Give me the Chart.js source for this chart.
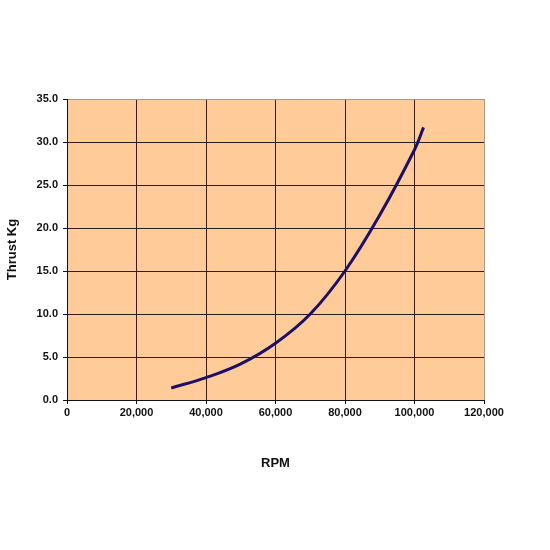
<!DOCTYPE html>
<html>
<head>
<meta charset="utf-8">
<script src="https://cdn.jsdelivr.net/npm/chart.js@4"></script>
<style>
  html, body { margin: 0; padding: 0; background: #fff; }
  #wrap { width: 550px; height: 550px; }
</style>
</head>
<body>
<div id="wrap"><canvas id="thrustchart" width="550" height="550"></canvas></div>
<script>
// values
const rpm = [30000, 40000, 50000, 60000, 70000, 80000, 90000, 100000, 102600];
const thrust = [1.4, 2.6, 4.2, 6.6, 10.0, 15.0, 21.5, 29.1, 31.7];
const xTicks = [0, 20000, 40000, 60000, 80000, 100000, 120000];
const yTicks = [0, 5, 10, 15, 20, 25, 30, 35];

// peach plot area
const plotBg = {
  id: "plotBg",
  beforeDraw(chart) {
    const { ctx, chartArea: a } = chart;
    ctx.save();
    ctx.fillStyle = "#FFCC99";
    ctx.fillRect(a.left, a.top, a.right - a.left, a.bottom - a.top);
    ctx.restore();
  },
};

const tickFont = { family: "Arial, 'Liberation Sans'", size: 11, weight: "bold" };
const titleFont = { family: "Arial, 'Liberation Sans'", size: 13, weight: "bold" };

const ctx = document.getElementById("thrustchart");
new Chart(ctx, {
  type: "scatter",
  data: {
    datasets: [
      {
        data: rpm.map((r, i) => ({ x: r, y: thrust[i] })),
        showLine: true,
        borderColor: "#1c0f66",
        borderWidth: 3,
        pointRadius: 0,
        tension: 0.4,
      },
    ],
  },
  options: {
    responsive: false,
    animation: false,
    layout: { padding: { left: 0, top: 99, right: 66, bottom: 79 } },
    plugins: { legend: { display: false }, tooltip: { enabled: false } },
    scales: {
      x: {
        type: "linear",
        min: 0,
        max: 120000,
        afterBuildTicks: (s) => { s.ticks = xTicks.map((v) => ({ value: v })); },
        afterFit: (s) => { s.height = 71; },
        ticks: {
          color: "#111",
          font: tickFont,
          padding: 2,
          maxRotation: 0,
          callback: (v) => (v === 0 ? "0" : v.toLocaleString("en-US")),
        },
        grid: {
          color: (c) => (c.tick && c.tick.value === 120000 ? "#a89888" : "#2e1e18"),
          tickColor: "#111",
          tickLength: 4,
          lineWidth: 1,
        },
        border: { color: "#111", width: 1 },
        title: { display: true, text: "RPM", color: "#111", font: titleFont, padding: { top: 0, bottom: 0 } },
      },
      y: {
        min: 0,
        max: 35,
        afterBuildTicks: (s) => { s.ticks = yTicks.map((v) => ({ value: v })); },
        afterFit: (s) => { s.width = 67; },
        ticks: {
          color: "#111",
          font: tickFont,
          padding: 5,
          callback: (v) => v.toFixed(1),
        },
        grid: {
          color: (c) => (c.tick && c.tick.value === 35 ? "#a89888" : "#2e1e18"),
          tickColor: "#111",
          tickLength: 4,
          lineWidth: 1,
        },
        border: { color: "#111", width: 1 },
        title: { display: true, text: "Thrust Kg", color: "#111", font: titleFont, padding: { top: 5, bottom: 0 } },
      },
    },
  },
  plugins: [plotBg],
});
</script>
</body>
</html>
